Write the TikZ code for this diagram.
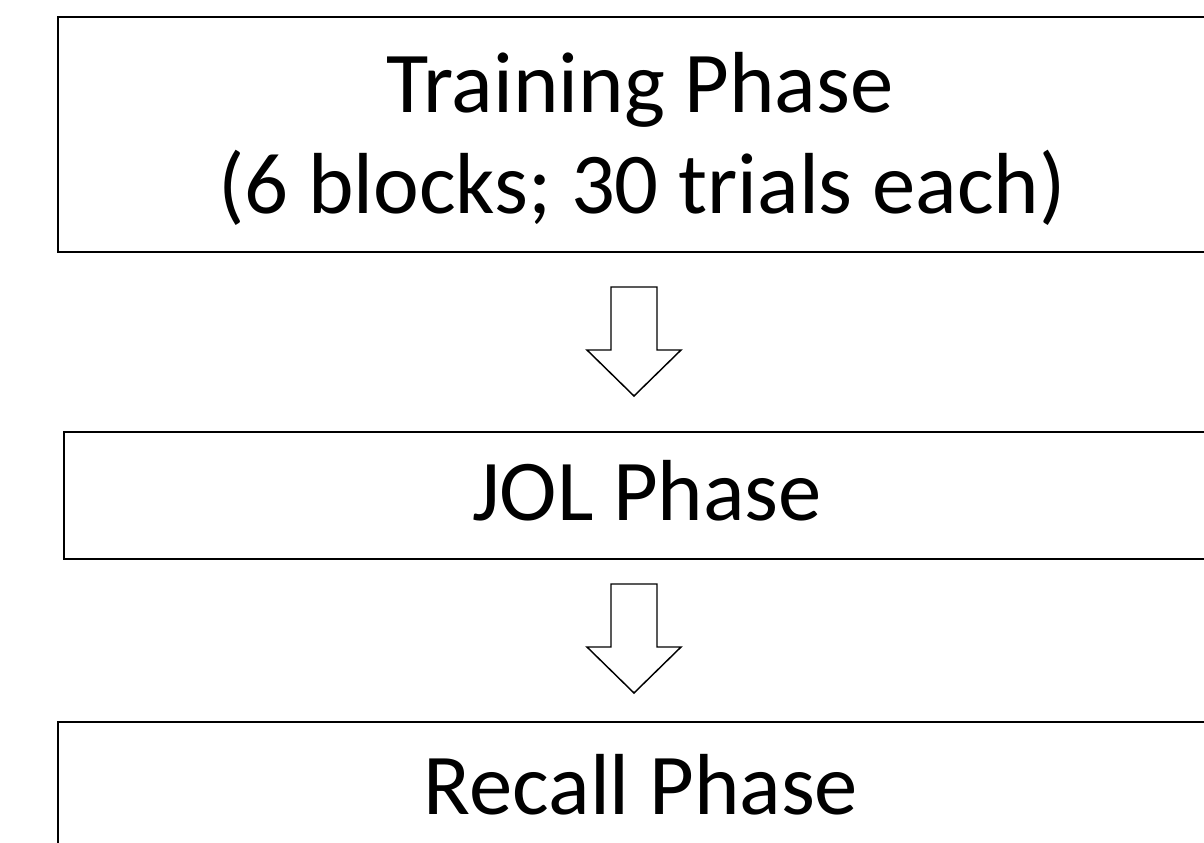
\documentclass[tikz,border=0pt]{standalone}
\usepackage{fontspec}
\setmainfont{Carlito}
\begin{document}
\begin{tikzpicture}[x=0.75pt,y=-0.75pt,
  phasebox/.style={draw=black,line width=1.1pt,fill=none},
  blockarrow/.style={draw=black,line width=1.1pt,fill=white,line join=miter},
  phasetext/.style={font=\fontsize{65pt}{77pt}\selectfont,inner sep=0pt,anchor=base}]
\useasboundingbox (0,0) rectangle (1204,843);
\clip (0,0) rectangle (1204,843);
\fill[white] (0,0) rectangle (1204,843);
% boxes
\draw[phasebox] (58,17) rectangle (1220,252);
\draw[phasebox] (64,432) rectangle (1220,559);
\draw[phasebox] (58,722) rectangle (1220,870);
% texts
\node[phasetext] (t1) at (640,112) {Training Phase};
\node[phasetext] (t2) at (642,213) {(6 blocks; 30 trials each)};
\node[phasetext] (t3) at (647,520) {JOL Phase};
\node[phasetext] (t4) at (641,814) {Recall Phase};
% block arrows
\draw[blockarrow] (611,287) -- (657,287) -- (657,350) -- (681,350) -- (634,396)
  -- (587,350) -- (611,350) -- cycle;
\draw[blockarrow] (611,584) -- (657,584) -- (657,647) -- (681,647) -- (634,693)
  -- (587,647) -- (611,647) -- cycle;
\end{tikzpicture}
\end{document}
